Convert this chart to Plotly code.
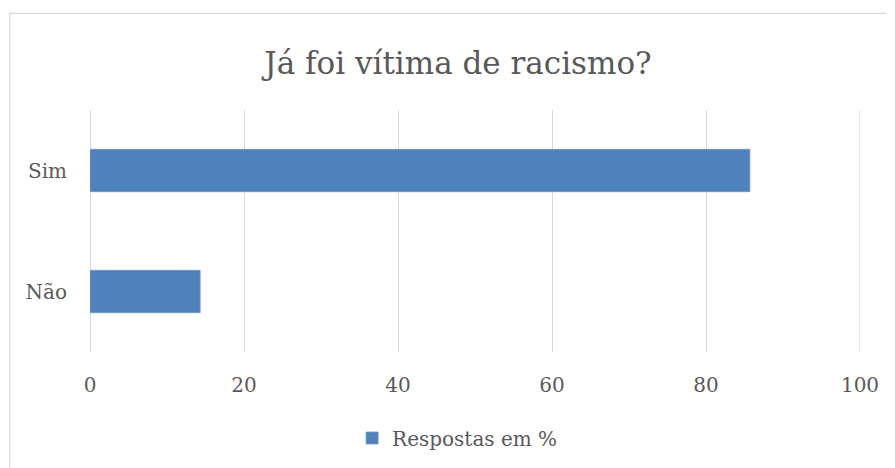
import plotly.graph_objects as go

categories = ["Não", "Sim"]
values = [14.3, 85.7]
series_name = "Respostas em %"
title_text = "Já foi vítima de racismo?"
x_ticks = [0, 20, 40, 60, 80, 100]

# page body adds an 8px offset; work in screen pixels and shift
OFF = 8
W, H = 895 - OFF, 468 - OFF
L, R, T, B = 90.3 - OFF, 860.5 - OFF, 110 - OFF, 353 - OFF
FONT = "DejaVu Serif"
GRAY = "#595959"
BAR = "#4F81BD"
GRID = "#D9D9D9"

fig = go.Figure()
fig.add_trace(go.Bar(
    y=categories, x=values, orientation="h", name=series_name,
    marker=dict(color=BAR, line=dict(color="#6E96C8", width=0.8)),
    width=0.35, showlegend=True,
))

fig.update_layout(
    width=W, height=H,
    margin=dict(l=L, r=W - R, t=T, b=H - B, pad=0),
    paper_bgcolor="white", plot_bgcolor="white",
    font=dict(family=FONT, color=GRAY, size=20),
    title=dict(text=title_text, x=(458 - OFF) / W, xanchor="center", xref="container",
               y=1 - (63 - OFF) / H, yanchor="middle", yref="container",
               font=dict(family=FONT, size=31, color=GRAY)),
    xaxis=dict(range=[0, 100], tickvals=x_ticks, showgrid=True, gridcolor=GRID,
               gridwidth=1.3, zeroline=True, zerolinecolor=GRID, zerolinewidth=1.3,
               showline=False, ticks="",
               ticklabelstandoff=19, tickfont=dict(size=20, color=GRAY)),
    yaxis=dict(range=[-0.5, 1.5], showgrid=False, zeroline=False, showline=False,
               ticks="", ticklabelstandoff=22, tickfont=dict(size=20, color=GRAY)),
    legend=dict(orientation="h", x=(458 - OFF - L) / (R - L), xanchor="center",
                y=(B - (438 - OFF)) / (B - T), yanchor="middle",
                font=dict(size=20, color=GRAY), itemwidth=30),
    bargap=0.65,
    shapes=[
        dict(type="rect", xref="paper", yref="paper",
             x0=(10 - OFF - L) / (R - L), x1=(920 - L) / (R - L),
             y0=(B - 490) / (B - T), y1=(B - (13 - OFF)) / (B - T),
             line=dict(color=GRID, width=1.3), fillcolor="rgba(0,0,0,0)",
             layer="below"),
        dict(type="line", xref="x", yref="paper", x0=x_ticks[-1], x1=x_ticks[-1],
             y0=0, y1=1, line=dict(color=GRID, width=1.3), layer="below"),
    ],
)

fig.write_html("out.html")
